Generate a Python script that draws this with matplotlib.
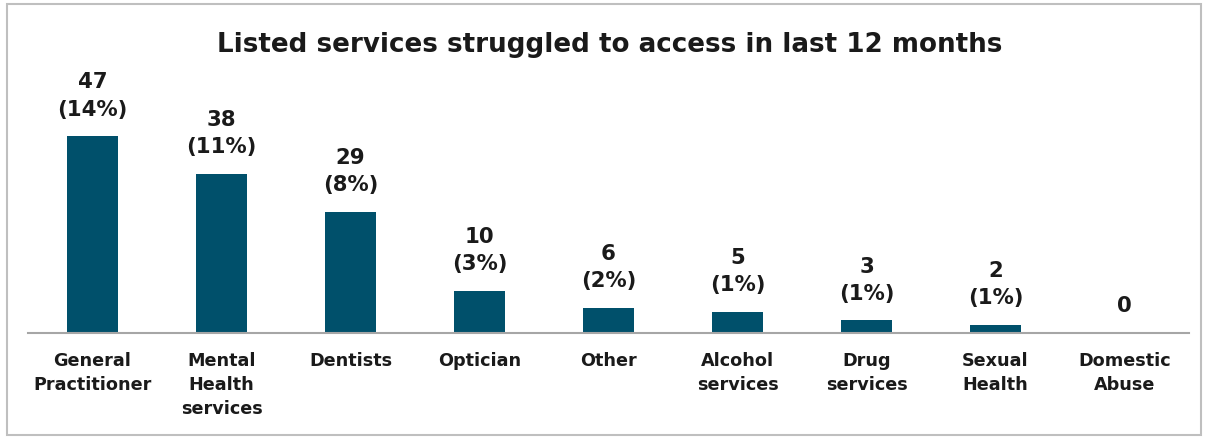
import matplotlib.pyplot as plt
from matplotlib.patches import Rectangle

categories = ["General\nPractitioner", "Mental\nHealth\nservices", "Dentists", "Optician",
              "Other", "Alcohol\nservices", "Drug\nservices", "Sexual\nHealth", "Domestic\nAbuse"]
counts = [47, 38, 29, 10, 6, 5, 3, 2, 0]
percents = ["14%", "11%", "8%", "3%", "2%", "1%", "1%", "1%", None]

bar_color = "#00506B"
plt.rcParams['font.family'] = ['DejaVu Sans']

fig = plt.figure(figsize=(12.08, 4.4), dpi=100)
ax = fig.add_axes([0.0232, 0.2432, 0.9611, 0.6205])

x = range(len(categories))
ax.bar(x, counts, width=0.4, color=bar_color)

# value labels
for i, (c, p) in enumerate(zip(counts, percents)):
    txt = f"{c}\n({p})" if p else f"{c}"
    ax.annotate(txt, (i, c), xytext=(0, 12), textcoords="offset points",
                ha="center", va="bottom", fontsize=15.3, fontweight="bold",
                linespacing=1.45, color="#1a1a1a")

ax.set_xlim(-0.5, len(categories) - 0.5)
ax.set_ylim(0, 65.2)
ax.set_xticks(list(x))
ax.set_xticklabels(categories, fontsize=12.7, fontweight="bold", color="#1a1a1a",
                   linespacing=1.4, va="top")
ax.tick_params(axis="x", length=0, pad=14)
ax.set_yticks([])
for s in ["top", "left", "right"]:
    ax.spines[s].set_visible(False)
ax.spines["bottom"].set_color("#A6A6A6")
ax.spines["bottom"].set_linewidth(1.5)

fig.text(0.505, 0.898, "Listed services struggled to access in last 12 months",
         ha="center", va="center", fontsize=18.8, fontweight="bold", color="#1a1a1a")

# outer frame
fig.patches.append(Rectangle((0.006, 0.011), 0.988, 0.98, transform=fig.transFigure,
                             fill=False, edgecolor="#BFBFBF", linewidth=1.5))

fig.savefig("out.png", dpi=100)
